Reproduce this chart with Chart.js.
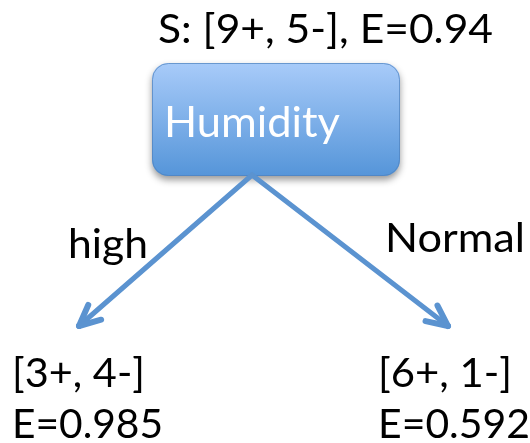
<!DOCTYPE html>
<html lang="en">
<head>
  <meta charset="UTF-8">
  <title>Humidity split</title>
  <script src="https://cdn.jsdelivr.net/npm/chart.js@4.4.0/dist/chart.umd.min.js"></script>
  <style>
    body { margin: 0; background: #ffffff; }
    #wrap { width: 530px; height: 443px; }
  </style>
</head>
<body>
  <div id="wrap"><canvas id="tree" width="530" height="443"></canvas></div>

  <script>
    // data
    var rootLabel = 'Humidity';
    var rootCounts = [9, 5];
    var rootEntropy = '0.94';
    var branchLabels = ['high', 'Normal'];
    var childPos = [3, 6];
    var childNeg = [4, 1];
    var childEntropy = ['0.985', '0.592'];

    // layout in frame units (x 0..530, y 0..443 from the top)
    var box = { x0: 152, x1: 400, y0: 63, y1: 176, r: 16 };
    var apex = { x: 252, y: 175 };
    var tipX = [79, 448];
    var tipY = 326;
    var arrowColor = '#5b93d0';
    var family = 'Lato, "Open Sans", sans-serif';

    var arrowSets = tipX.map(function(x, i) {
      return {
        label: branchLabels[i],
        data: [{ x: apex.x, y: apex.y }, { x: x, y: tipY }],
        showLine: true,
        borderColor: arrowColor,
        borderWidth: 5,
        borderCapStyle: 'round',
        pointRadius: 0,
        fill: false
      };
    });

    // draw text at a given font size, squeezed sideways to the width seen in the picture
    function put(ctx, text, x, y, size, width, color, align) {
      ctx.save();
      ctx.font = size + 'px ' + family;
      ctx.fillStyle = color;
      ctx.textBaseline = 'alphabetic';
      ctx.textAlign = 'left';
      var k = width / ctx.measureText(text).width;
      var left = align === 'center' ? x - width / 2 : x;
      ctx.translate(left, y);
      ctx.scale(k, 1);
      ctx.fillText(text, 0, 0);
      ctx.restore();
    }

    var treePlugin = {
      id: 'treeDraw',
      beforeDatasetsDraw: function(chart) {
        var ctx = chart.ctx, sx = chart.scales.x, sy = chart.scales.y;
        var x0 = sx.getPixelForValue(box.x0), x1 = sx.getPixelForValue(box.x1);
        var y0 = sy.getPixelForValue(box.y0), y1 = sy.getPixelForValue(box.y1);
        ctx.save();
        ctx.shadowColor = 'rgba(0,0,0,0.4)';
        ctx.shadowBlur = 7;
        ctx.shadowOffsetY = 4;
        var g = ctx.createLinearGradient(0, y0, 0, y1);
        g.addColorStop(0, '#a8cbf9');
        g.addColorStop(1, '#5595d9');
        ctx.fillStyle = g;
        ctx.beginPath();
        ctx.roundRect(x0, y0, x1 - x0, y1 - y0, box.r);
        ctx.fill();
        ctx.restore();
        ctx.save();
        ctx.strokeStyle = 'rgba(79,129,189,0.7)';
        ctx.lineWidth = 1;
        ctx.beginPath();
        ctx.roundRect(x0 + 0.5, y0 + 0.5, x1 - x0 - 1, y1 - y0 - 1, box.r);
        ctx.stroke();
        ctx.restore();
      },
      afterDatasetsDraw: function(chart) {
        var ctx = chart.ctx, sx = chart.scales.x, sy = chart.scales.y;
        ctx.save();
        // arrow heads
        ctx.strokeStyle = arrowColor;
        ctx.lineWidth = 6;
        ctx.lineCap = 'round';
        tipX.forEach(function(x) {
          var tx = sx.getPixelForValue(x), ty = sy.getPixelForValue(tipY);
          var ax = sx.getPixelForValue(apex.x), ay = sy.getPixelForValue(apex.y);
          var ang = Math.atan2(ay - ty, ax - tx);
          [-0.44, 0.44].forEach(function(d) {
            ctx.beginPath();
            ctx.moveTo(tx, ty);
            ctx.lineTo(tx + 23 * Math.cos(ang + d), ty + 23 * Math.sin(ang + d));
            ctx.stroke();
          });
        });
        ctx.restore();

        // texts
        var title = 'S: [' + rootCounts[0] + '+, ' + rootCounts[1] + '-], E=' + rootEntropy;
        var lines = [
          { t: title, x: 158, y: 43, w: 335 },
          { t: branchLabels[0], x: 68, y: 258, w: 80 },
          { t: branchLabels[1], x: 385, y: 252, w: 140 },
          { t: '[' + childPos[0] + '+, ' + childNeg[0] + '-]', x: 12, y: 387, w: 133 },
          { t: 'E=' + childEntropy[0], x: 12, y: 438, w: 151 },
          { t: '[' + childPos[1] + '+, ' + childNeg[1] + '-]', x: 378, y: 387, w: 134 },
          { t: 'E=' + childEntropy[1], x: 378, y: 438, w: 152 }
        ];
        lines.forEach(function(l) {
          put(ctx, l.t, sx.getPixelForValue(l.x), sy.getPixelForValue(l.y), 41, l.w, '#000000');
        });
        put(ctx, rootLabel, sx.getPixelForValue(252), sy.getPixelForValue(137), 42, 176, '#ffffff', 'center');
      }
    };

    new Chart(document.getElementById('tree'), {
      type: 'scatter',
      data: { datasets: arrowSets },
      options: {
        responsive: false,
        animation: false,
        layout: { padding: 0 },
        plugins: { legend: { display: false }, tooltip: { enabled: false } },
        scales: {
          x: { type: 'linear', min: 0, max: 530, display: false },
          y: { type: 'linear', min: 0, max: 443, reverse: true, display: false }
        }
      },
      plugins: [treePlugin]
    });
  </script>
</body>
</html>
